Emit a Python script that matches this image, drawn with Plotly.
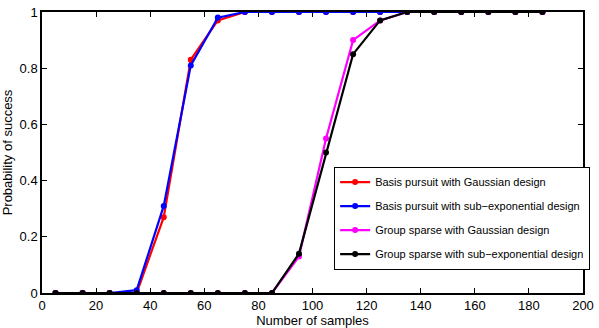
import plotly.graph_objects as go

samples = [5, 15, 25, 35, 45, 55, 65, 75, 85, 95, 105, 115, 125, 135, 145, 155, 165, 175, 185]
bp_gauss = [0, 0, 0, 0.0, 0.27, 0.83, 0.97, 1, 1, 1, 1, 1, 1, 1, 1, 1, 1, 1, 1]
bp_subexp = [0, 0, 0, 0.01, 0.31, 0.81, 0.98, 1, 1, 1, 1, 1, 1, 1, 1, 1, 1, 1, 1]
gs_gauss = [0, 0, 0, 0, 0, 0, 0, 0, 0, 0.13, 0.55, 0.90, 0.97, 1, 1, 1, 1, 1, 1]
gs_subexp = [0, 0, 0, 0, 0, 0, 0, 0, 0, 0.14, 0.50, 0.85, 0.97, 1, 1, 1, 1, 1, 1]

series = [
    ("Basis pursuit with Gaussian design", bp_gauss, "#ff0000"),
    ("Basis pursuit with sub\u2212exponential design", bp_subexp, "#0000ff"),
    ("Group sparse with Gaussian design", gs_gauss, "#ff00ff"),
    ("Group sparse with sub\u2212exponential design", gs_subexp, "#000000"),
]

FONT = "Liberation Sans, Arial"

fig = go.Figure()
for i, (name, ys, col) in enumerate(series):
    fig.add_trace(go.Scatter(
        x=samples, y=ys, name=name, mode="lines+markers", legendgroup=f"g{i}",
        line=dict(color=col, width=2.2),
        marker=dict(color=col, size=6, symbol="circle"),
    ))

axis_common = dict(
    showgrid=False, zeroline=False, showline=True, linecolor="black", linewidth=1.5,
    mirror="ticks", ticks="inside", ticklen=5, tickcolor="black", automargin=False,
    tickfont=dict(family=FONT, size=13, color="black"),
)

fig.update_layout(
    width=599, height=328,
    margin=dict(l=42, r=9, t=12, b=35),
    paper_bgcolor="white", plot_bgcolor="white",
    font=dict(family=FONT, color="black"),
    xaxis=dict(range=[0, 200], dtick=20, tick0=0,
               title=dict(text="Number of samples", font=dict(size=13), standoff=0),
               **axis_common),
    yaxis=dict(range=[0, 1], dtick=0.2, tick0=0, tickformat="~g",
               title=dict(text="Probability of success", font=dict(size=13), standoff=6),
               **axis_common),
    legend=dict(x=0.54, y=0.45, xanchor="left", yanchor="top",
                bgcolor="white", bordercolor="black", borderwidth=1,
                font=dict(size=11, family=FONT),
                itemwidth=30, tracegroupgap=5),
    showlegend=True,
)

fig.write_html("out.html", config={"displayModeBar": False},
               post_script="document.body.style.margin='0';")
